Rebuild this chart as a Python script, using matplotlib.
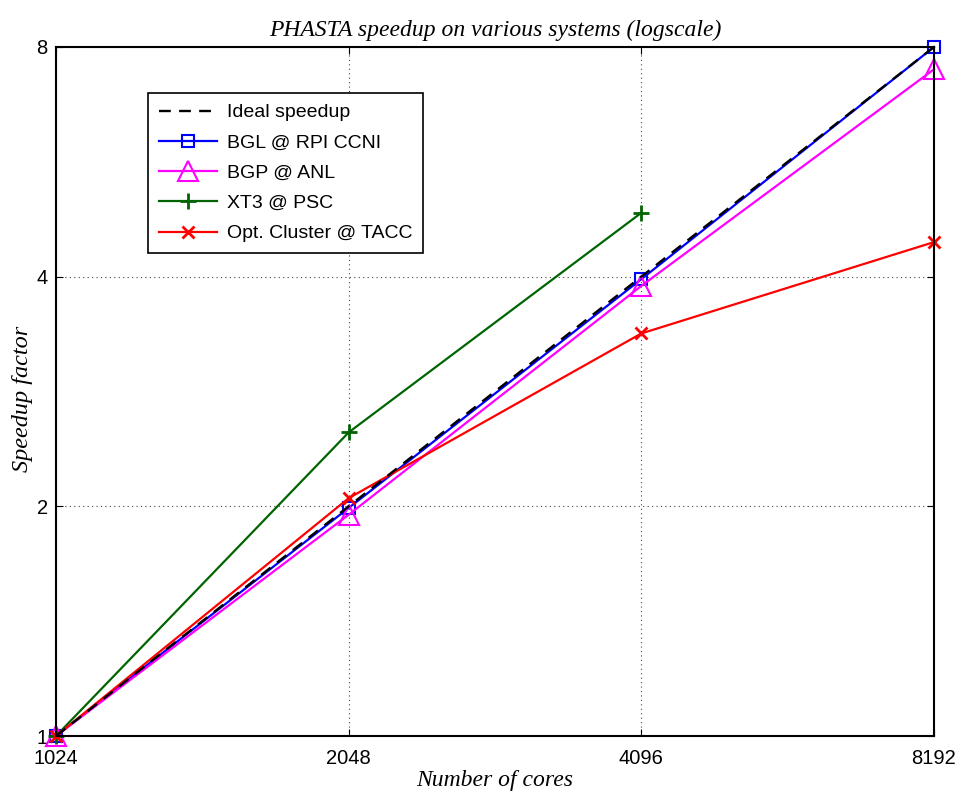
import matplotlib.pyplot as plt
from matplotlib.ticker import FixedLocator, NullLocator, FixedFormatter

cores = [1024, 2048, 4096, 8192]
ideal = [1, 2, 4, 8]
bgl = [1, 1.99, 3.97, 8.0]
bgp = [1, 1.95, 3.89, 7.48]
xt3_cores = [1024, 2048, 4096]
xt3 = [1, 2.50, 4.85]
opt = [1, 2.05, 3.37, 4.44]

plt.rcParams['font.family'] = ['Liberation Sans', 'DejaVu Sans']

fig = plt.figure(figsize=(9.56, 7.91), dpi=100)
ax = fig.add_axes([56 / 956, 55 / 791, 878 / 956, 689 / 791])

ax.plot(cores, ideal, '--', color='black', lw=1.7, dashes=(5, 3.5), label='Ideal speedup', zorder=5, clip_on=False)
ax.plot(cores, bgl, '-s', color='#0000ff', lw=1.6, ms=9, mfc='none', mew=1.5, label='BGL @ RPI CCNI', clip_on=False)
ax.plot(cores, bgp, '-^', color='#ff00ff', lw=1.6, ms=14, mfc='none', mew=1.5, label='BGP @ ANL', clip_on=False)
ax.plot(xt3_cores, xt3, '-+', color='#006400', lw=1.6, ms=12, mew=2, label='XT3 @ PSC', clip_on=False)
ax.plot(cores, opt, '-x', color='#ff0000', lw=1.6, ms=9, mew=2, label='Opt. Cluster @ TACC', clip_on=False)

ax.set_xscale('log', base=2)
ax.set_yscale('log', base=2)
ax.set_xlim(1024, 8192)
ax.set_ylim(1, 8)
ax.xaxis.set_major_locator(FixedLocator(cores))
ax.xaxis.set_major_formatter(FixedFormatter([str(c) for c in cores]))
ax.yaxis.set_major_locator(FixedLocator([1, 2, 4, 8]))
ax.yaxis.set_major_formatter(FixedFormatter(['1', '2', '4', '8']))
ax.xaxis.set_minor_locator(NullLocator())
ax.yaxis.set_minor_locator(NullLocator())
ax.tick_params(direction='in', length=5, labelsize=14.5, top=True, right=True)
ax.tick_params(axis='x', pad=9)
ax.tick_params(axis='y', pad=6)
ax.grid(True, linestyle=(0, (1, 3)), color='#444444', lw=0.8)
for s in ax.spines.values():
    s.set_linewidth(1.5)

serif = ['Liberation Serif', 'DejaVu Serif']
ax.set_title('PHASTA speedup on various systems (logscale)', family=serif, style='italic', fontsize=17, pad=8)
ax.set_xlabel('Number of cores', family=serif, style='italic', fontsize=17, labelpad=2)
ax.set_ylabel('Speedup factor', family=serif, style='italic', fontsize=17.5)
ax.yaxis.set_label_coords(-0.026, 0.49)

leg = ax.legend(loc='upper left', bbox_to_anchor=(0.105, 0.933), borderaxespad=0, fontsize=14,
                fancybox=False, edgecolor='black', framealpha=1, handlelength=3.0,
                handletextpad=0.5, labelspacing=0.65, borderpad=0.55)
leg.get_frame().set_linewidth(1.2)

fig.savefig('out.png', dpi=100)
